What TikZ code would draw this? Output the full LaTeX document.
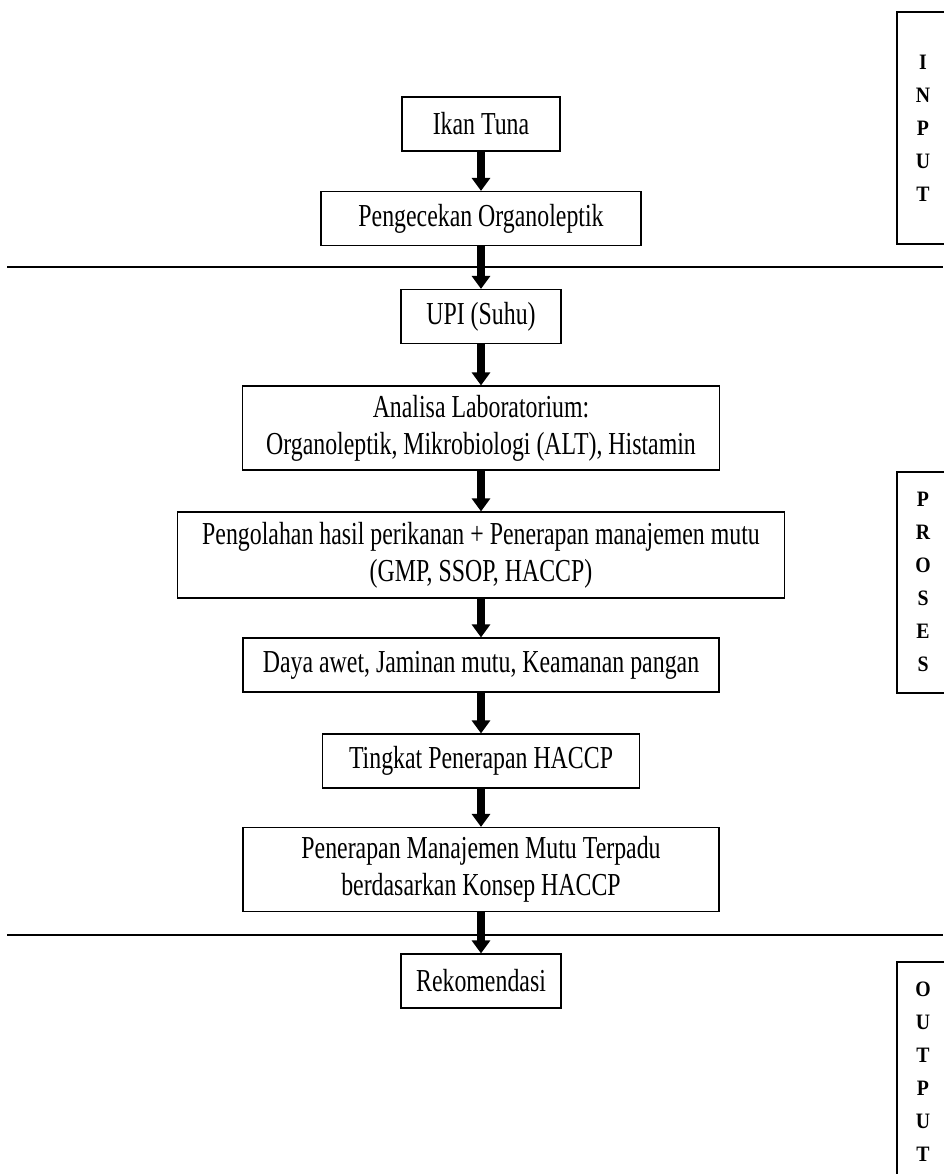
\documentclass[tikz,border=0pt]{standalone}
\usepackage{fontspec}
\setmainfont[FakeStretch=0.745]{Liberation Serif}
\newfontfamily\lblfont[FakeStretch=0.9]{Liberation Serif}
\usetikzlibrary{arrows.meta}
\begin{document}
\begin{tikzpicture}[x=1pt,y=-1pt,
  box/.style={draw, line width=1.2pt, minimum height=54pt, inner sep=0pt, align=center, font=\fontsize{32}{37}\selectfont},
  arr/.style={line width=8.5pt, -{Triangle[width=18pt,length=13pt]}},
  lbl/.style={font=\lblfont\bfseries\fontsize{22}{33}\selectfont, align=center, inner sep=0pt},
  sidebox/.style={line width=1.2pt},
  sep/.style={line width=1.2pt}]
\useasboundingbox (0,0) rectangle (943,1174);
% main boxes
\node[box, minimum width=158pt] (ikan) at (481,124) {Ikan Tuna};
\node[box, minimum width=320pt] (cek) at (481,218.5) {Pengecekan Organoleptik};
\node[box, minimum width=160pt] (upi) at (481,316.5) {UPI (Suhu)};
\node[box, minimum width=477pt, minimum height=84pt] (lab) at (481,428) {Analisa Laboratorium:\\Organoleptik, Mikrobiologi (ALT), Histamin};
\node[box, minimum width=607pt, minimum height=86pt] (olah) at (481,555) {Pengolahan hasil perikanan + Penerapan manajemen mutu\\(GMP, SSOP, HACCP)};
\node[box, minimum width=476pt] (daya) at (481,665) {Daya awet, Jaminan mutu, Keamanan pangan};
\node[box, minimum width=317pt] (tingkat) at (481,761) {Tingkat Penerapan HACCP};
\node[box, minimum width=476pt, minimum height=84pt] (mutu) at (481,869.5) {Penerapan Manajemen Mutu Terpadu\\berdasarkan Konsep HACCP};
\node[box, minimum width=160pt] (rek) at (481,981) {Rekomendasi};
% arrows
\draw[arr] (ikan.south) -- (cek.north);
\draw[arr] (cek.south) -- (upi.north);
\draw[arr] (upi.south) -- (lab.north);
\draw[arr] (lab.south) -- (olah.north);
\draw[arr] (olah.south) -- (daya.north);
\draw[arr] (daya.south) -- (tingkat.north);
\draw[arr] (tingkat.south) -- (mutu.north);
\draw[arr] (mutu.south) -- (rek.north);
% separators
\coordinate (s1a) at (7,267); \coordinate (s1b) at (943,267);
\coordinate (s2a) at (7,935); \coordinate (s2b) at (943,935);
\draw[sep] (s1a) -- (s1b);
\draw[sep] (s2a) -- (s2b);
% side labels
\draw[sidebox] (897,12) rectangle (950,244);
\node[lbl] (input) at (923,128) {I\\N\\P\\U\\T};
\draw[sidebox] (897,472) rectangle (950,693);
\node[lbl] (proses) at (923,582) {P\\R\\O\\S\\E\\S};
\draw[sidebox] (897,962) rectangle (950,1200);
\node[lbl] (output) at (923,1072) {O\\U\\T\\P\\U\\T};
\end{tikzpicture}
\end{document}
